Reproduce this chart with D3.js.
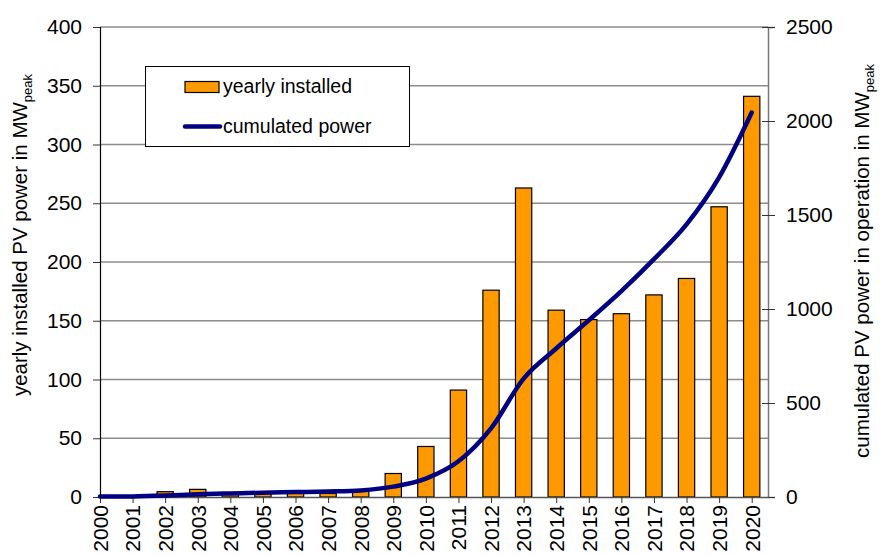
<!DOCTYPE html>
<html>
<head>
<meta charset="utf-8">
<script src="https://cdn.jsdelivr.net/npm/d3@7"></script>
<style>
  body { margin: 0; background: #fff; }
  svg { font-family: "Liberation Sans", Arial, sans-serif; }
</style>
</head>
<body>
<div id="chart"></div>
<script>
const years = [2000, 2001, 2002, 2003, 2004, 2005, 2006, 2007, 2008, 2009, 2010,
  2011, 2012, 2013, 2014, 2015, 2016, 2017, 2018, 2019, 2020];
const yearly = [0, 0.5, 4.5, 6.5, 3, 3, 3, 3, 5, 20, 43,
  91, 176, 263, 159, 151, 156, 172, 186, 247, 341];
const cumulated = [2, 3, 8, 15, 19, 23, 26, 29, 35, 55, 98,
  190, 365, 630, 790, 940, 1095, 1265, 1450, 1700, 2045];
const leftTicks = [0, 50, 100, 150, 200, 250, 300, 350, 400];
const rightTicks = [0, 500, 1000, 1500, 2000, 2500];

const width = 880, height = 555;
const plot = { left: 100, right: 768, top: 27, bottom: 497 };

const svg = d3.select('#chart').append('svg')
  .attr('width', width)
  .attr('height', height);

const x = d3.scaleLinear().domain([2000, 2020.5]).range([plot.left, plot.right]);
const yL = d3.scaleLinear().domain([0, 400]).range([plot.bottom, plot.top]);
const yR = d3.scaleLinear().domain([0, 2500]).range([plot.bottom, plot.top]);
const step = x(2001) - x(2000);
const barW = step * 0.5;

// gridlines
svg.append('g')
  .selectAll('line')
  .data(leftTicks.slice(1))
  .join('line')
  .attr('x1', plot.left).attr('x2', plot.right)
  .attr('y1', d => yL(d)).attr('y2', d => yL(d))
  .attr('stroke', '#8c8c8c')
  .attr('stroke-width', 1.5);

// bars
svg.append('g')
  .selectAll('rect')
  .data(years)
  .join('rect')
  .attr('x', (d, i) => x(d) - barW / 2)
  .attr('y', (d, i) => yL(yearly[i]))
  .attr('width', barW)
  .attr('height', (d, i) => plot.bottom - yL(yearly[i]))
  .attr('fill', '#ff9900')
  .attr('stroke', '#000')
  .attr('stroke-width', 1.2);

// left axis
const axisL = svg.append('g')
  .attr('transform', `translate(${plot.left},0)`)
  .call(d3.axisLeft(yL).tickValues(leftTicks).tickSize(7).tickPadding(11));
axisL.select('.domain').attr('stroke', '#000').attr('stroke-width', 1.2);
axisL.selectAll('.tick line').attr('stroke', '#333');
axisL.selectAll('text').attr('font-size', 21).attr('fill', '#000');

// right axis
const axisR = svg.append('g')
  .attr('transform', `translate(${plot.right},0)`)
  .call(d3.axisRight(yR).tickValues(rightTicks).tickFormat(d3.format('d')).tickSize(7).tickPadding(11));
axisR.select('.domain').attr('stroke', '#777').attr('stroke-width', 1.5);
axisR.selectAll('.tick line').attr('stroke', '#333').attr('x1', -6);
axisR.selectAll('text').attr('font-size', 21).attr('fill', '#000');

// x axis
const axisX = svg.append('g')
  .attr('transform', `translate(0,${plot.bottom})`)
  .call(d3.axisBottom(x).tickValues(years).tickFormat(d3.format('d')).tickSize(6).tickSizeOuter(0));
axisX.select('.domain').attr('stroke', '#555').attr('stroke-width', 1.5);
axisX.selectAll('.tick line').attr('stroke', '#333');
axisX.selectAll('text')
  .attr('font-size', 21)
  .attr('fill', '#000')
  .attr('text-anchor', 'end')
  .attr('transform', 'rotate(-90)')
  .attr('x', -8)
  .attr('y', 0)
  .attr('dy', '0.35em');

// cumulated line
const line = d3.line()
  .x((d, i) => x(years[i]))
  .y(d => yR(d))
  .curve(d3.curveCardinal.tension(0));

svg.append('path')
  .datum(cumulated)
  .attr('d', line)
  .attr('fill', 'none')
  .attr('stroke', '#000080')
  .attr('stroke-width', 4.5)
  .attr('stroke-linecap', 'round');

// axis titles
function title(tx, ty, main, size) {
  const t = svg.append('text')
    .attr('transform', `translate(${tx},${ty}) rotate(-90)`)
    .attr('text-anchor', 'middle')
    .attr('font-size', size)
    .attr('fill', '#000');
  t.append('tspan').text(main);
  t.append('tspan').attr('font-size', 13).attr('dy', 5).text('peak');
}
title(27, 235, 'yearly installed PV power in MW', 20.5);
title(869, 261, 'cumulated PV power in operation in MW', 20.5);

// legend
const legend = svg.append('g');
legend.append('rect')
  .attr('x', 145.5).attr('y', 66.5)
  .attr('width', 264).attr('height', 80)
  .attr('fill', '#fff')
  .attr('stroke', '#000')
  .attr('stroke-width', 1);
legend.append('rect')
  .attr('x', 185).attr('y', 81.5)
  .attr('width', 34).attr('height', 11)
  .attr('fill', '#ff9900')
  .attr('stroke', '#000')
  .attr('stroke-width', 1.2);
legend.append('text')
  .attr('x', 223).attr('y', 93)
  .attr('font-size', 19.5)
  .text('yearly installed');
legend.append('line')
  .attr('x1', 185).attr('x2', 220)
  .attr('y1', 126.5).attr('y2', 126.5)
  .attr('stroke', '#000080')
  .attr('stroke-width', 4.5)
  .attr('stroke-linecap', 'round');
legend.append('text')
  .attr('x', 223).attr('y', 133)
  .attr('font-size', 19.5)
  .text('cumulated power');
</script>
</body>
</html>
